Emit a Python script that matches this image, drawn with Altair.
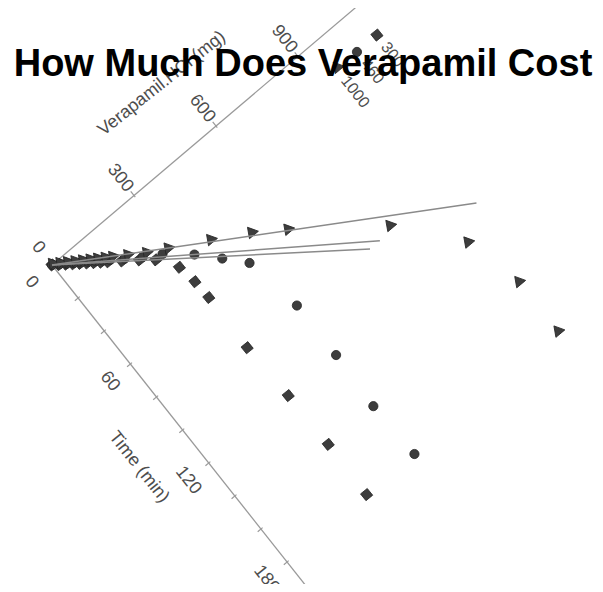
import altair as alt
import pandas as pd

# ---- data ----
TITLE = "How Much Does Verapamil Cost"
times = [0, 2, 4, 6, 8, 10, 12, 14, 16, 20, 25, 30, 40, 50, 60, 90, 120, 150, 180]
amt_300 = [0, 16, 32, 48, 64, 80, 96, 112, 128, 160, 200, 236, 275, 284, 287, 284, 291, 294, 291]
amt_460 = [0, 17, 34, 51, 68, 85, 102, 119, 136, 170, 212, 261, 330, 384, 436, 466, 466, 459, 466]
amt_1000 = [0, 18, 36, 54, 72, 90, 108, 126, 144, 180, 225, 280, 388, 490, 575, 805, 947, 990, 990]
series_labels = ["300", "460", "1000"]
trend_t_end = [92, 92, 108]
trend_a_end = [724, 760, 1037]
time_ticks = [0, 20, 40, 60, 80, 100, 120, 140, 160, 180, 200]
time_tick_labels = [0, 60, 120, 180]
amount_ticks = [0, 300, 600, 900]
time_axis_max = 200
amount_axis_max = 1110
x_title = "Time (min)"
y_title = "Verapamil.HCl (mg)"

# ---- rotated plot frame (time runs down-right, amount runs up-right) ----
OX, OY = 52, 265
TX, TY = 1.306, 1.65
AX, AY = 0.2733, -0.2317
ROT = 51.6

def PX(t, a):
    return f"{OX} + {TX}*({t}) + {AX}*({a})"

def PY(t, a):
    return f"{OY} + {TY}*({t}) + {AY}*({a})"

XS = alt.Scale(domain=[8, 595], range=[0, 587])
YS = alt.Scale(domain=[8, 584], range=[0, 576])
FONT = "Liberation Sans"
GREY_TXT = "#4d4d4d"
MARK_FILL = "#3d3d3d"

def xenc(f="px"):
    return alt.X(f"{f}:Q", scale=XS, axis=None)

def yenc(f="py"):
    return alt.Y(f"{f}:Q", scale=YS, axis=None)

SYM_ROT = "datum.series == '1000' ? 20 : (datum.series == '300' ? 6 : 0)"
SYM_SIZE = "datum.series == '1000' ? 135 : (datum.series == '300' ? 150 : 85)"

# points
rows = []
for lab, vals in zip(series_labels, [amt_300, amt_460, amt_1000]):
    for t, a in zip(times, vals):
        rows.append({"series": lab, "t": t, "a": a})
pts = pd.DataFrame(rows)

shape_scale = alt.Scale(domain=series_labels, range=["diamond", "circle", "triangle-down"])

points = alt.Chart(pts).transform_calculate(
    px=PX("datum.t", "datum.a"), py=PY("datum.t", "datum.a"),
    rot=SYM_ROT, sz=SYM_SIZE,
).mark_point(filled=True, color=MARK_FILL, stroke="#262626",
             strokeWidth=0.8, opacity=1).encode(
    x=xenc(), y=yenc(),
    shape=alt.Shape("series:N", scale=shape_scale, legend=None),
    angle=alt.Angle("rot:Q", scale=None),
    size=alt.Size("sz:Q", scale=None),
)

# trend lines from the origin
trend = pd.DataFrame({"series": series_labels, "t2": trend_t_end, "a2": trend_a_end})
trend_lines = alt.Chart(trend).transform_calculate(
    px=PX(0, 0), py=PY(0, 0),
    px2=PX("datum.t2", "datum.a2"), py2=PY("datum.t2", "datum.a2"),
).mark_rule(color="#8a8a8a", strokeWidth=1.5).encode(
    x=xenc(), y=yenc(), x2="px2:Q", y2="py2:Q"
)

# axis lines
axes_df = pd.DataFrame({"t2": [time_axis_max, 0], "a2": [0, amount_axis_max]})
axis_lines = alt.Chart(axes_df).transform_calculate(
    px=PX(0, 0), py=PY(0, 0),
    px2=PX("datum.t2", "datum.a2"), py2=PY("datum.t2", "datum.a2"),
).mark_rule(color="#9a9a9a", strokeWidth=1.3).encode(
    x=xenc(), y=yenc(), x2="px2:Q", y2="py2:Q"
)

# ticks
tt = pd.DataFrame({"v": time_ticks})
time_tick_marks = alt.Chart(tt).transform_calculate(
    px=PX("datum.v", -12), py=PY("datum.v", -12),
    px2=PX("datum.v", 6), py2=PY("datum.v", 6),
).mark_rule(color="#9a9a9a", strokeWidth=1.2).encode(
    x=xenc(), y=yenc(), x2="px2:Q", y2="py2:Q"
)
at = pd.DataFrame({"v": amount_ticks})
amount_tick_marks = alt.Chart(at).transform_calculate(
    px=PX(-2.5, "datum.v"), py=PY(-2.5, "datum.v"),
    px2=PX(1, "datum.v"), py2=PY(1, "datum.v"),
).mark_rule(color="#9a9a9a", strokeWidth=1.2).encode(
    x=xenc(), y=yenc(), x2="px2:Q", y2="py2:Q"
)

# tick labels
tl = pd.DataFrame({"v": time_tick_labels})
time_labels = alt.Chart(tl).transform_calculate(
    px=PX("datum.v", -75), py=PY("datum.v", -75), lab="format(datum.v, 'd')"
).mark_text(angle=ROT, align="center", baseline="middle", fontSize=18,
            font=FONT, color=GREY_TXT).encode(x=xenc(), y=yenc(), text="lab:N")

al = pd.DataFrame({"v": amount_ticks})
amount_labels = alt.Chart(al).transform_calculate(
    px=PX(-10.5, "datum.v"), py=PY(-10.5, "datum.v"), lab="format(datum.v, 'd')"
).mark_text(angle=ROT, align="center", baseline="middle", fontSize=18,
            font=FONT, color=GREY_TXT).encode(x=xenc(), y=yenc(), text="lab:N")

# axis titles
xt = pd.DataFrame({"lab": [x_title]})
x_title_mark = alt.Chart(xt).transform_calculate(
    px=PX(time_axis_max / 2, -160), py=PY(time_axis_max / 2, -160)
).mark_text(angle=ROT, align="center", baseline="middle", fontSize=18,
            font=FONT, color=GREY_TXT).encode(x=xenc(), y=yenc(), text="lab:N")

yt = pd.DataFrame({"lab": [y_title]})
y_title_mark = alt.Chart(yt).transform_calculate(
    px=PX(-32, amount_axis_max / 2), py=PY(-32, amount_axis_max / 2)
).mark_text(angle=360 - (90 - ROT), align="center", baseline="middle", fontSize=18,
            font=FONT, color=GREY_TXT).encode(x=xenc(), y=yenc(), text="lab:N")

# legend (top-left corner of the rotated frame)
leg = pd.DataFrame({"series": series_labels, "i": [0, 1, 2]})
leg_base = alt.Chart(leg).transform_calculate(
    la=f"{amount_axis_max} - 73*datum.i",
    rot=SYM_ROT, sz=SYM_SIZE,
).transform_calculate(
    px=PX(16.5, "datum.la"), py=PY(16.5, "datum.la"),
    tx=PX(22, "datum.la"), ty=PY(22, "datum.la"),
)
leg_pts = leg_base.mark_point(filled=True, color=MARK_FILL, stroke="#262626",
                              strokeWidth=0.8, opacity=1).encode(
    x=xenc(), y=yenc(),
    shape=alt.Shape("series:N", scale=shape_scale, legend=None),
    angle=alt.Angle("rot:Q", scale=None),
    size=alt.Size("sz:Q", scale=None),
)
leg_txt = leg_base.mark_text(angle=ROT, align="left", baseline="middle", fontSize=16,
                             font=FONT, color=GREY_TXT).encode(
    x=xenc("tx"), y=yenc("ty"), text="series:N")

# overlaid page title
title_df = pd.DataFrame({"title": [TITLE]})
title_mark = alt.Chart(title_df).mark_text(
    align="center", baseline="alphabetic", fontSize=38, fontWeight="bold",
    font=FONT, color="#000000"
).encode(x=alt.value(295), y=alt.value(68), text="title:N")

chart = alt.layer(
    axis_lines, time_tick_marks, amount_tick_marks,
    time_labels, amount_labels, x_title_mark, y_title_mark,
    points, trend_lines, leg_pts, leg_txt, title_mark
).properties(
    width=587, height=576, padding=0, autosize="none"
).configure_view(stroke=None)

chart.save("out.html", embed_options={"renderer": "svg", "actions": False})
